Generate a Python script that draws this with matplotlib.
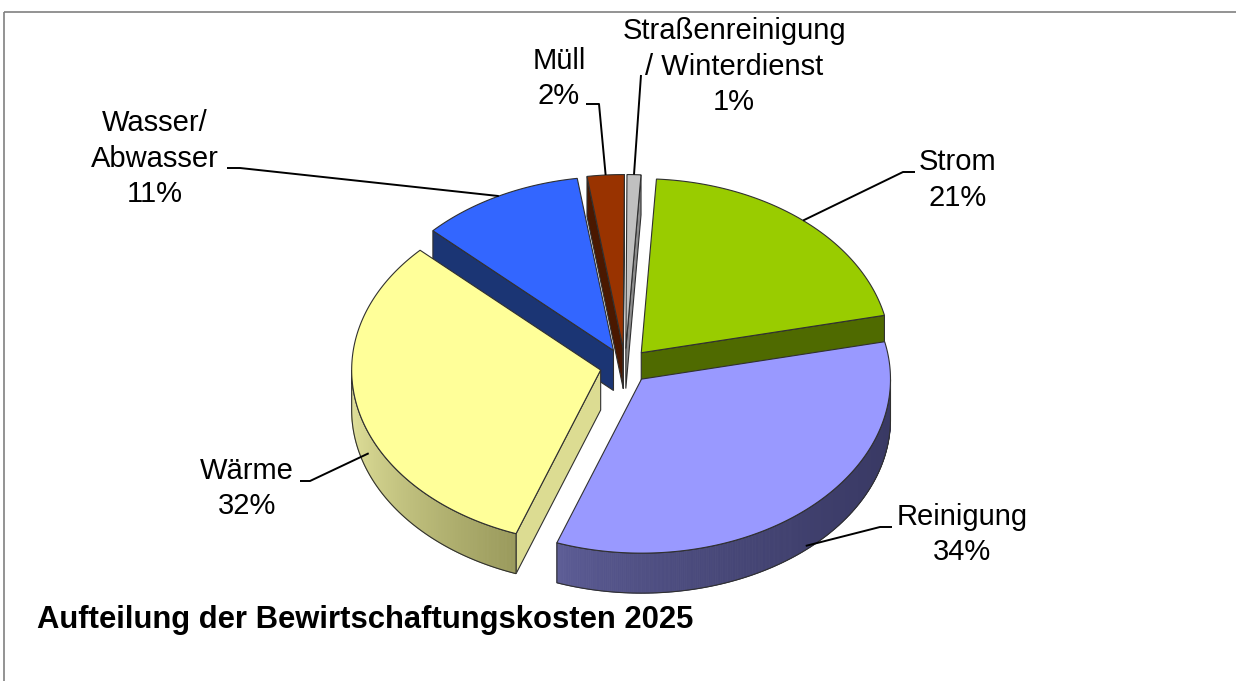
import numpy as np
import matplotlib.pyplot as plt
from matplotlib.patches import Polygon, Rectangle
from matplotlib.colors import to_rgb

plt.rcParams['font.family'] = ['Liberation Sans', 'DejaVu Sans']

# data (clockwise from the top)
categories = ['Strom', 'Reinigung', 'Wärme', 'Wasser/\nAbwasser', 'Müll',
              'Straßenreinigung\n/ Winterdienst']
shares = [20.6, 34.0, 31.6, 10.6, 2.4, 0.9]
title = 'Aufteilung der Bewirtschaftungskosten 2025'

# colours
top_colors = ['#99cc00', '#9999ff', '#ffff99', '#3366ff', '#993300', '#c0c0c0']
radial_colors = ['#4f6a00', '#3a3a66', '#dcdc92', '#1b3574', '#4a1800', '#8c8c8c']
wall_light = ['#6a8a00', '#5e5e98', '#e2e29c', '#2a4aa0', '#5a2000', '#a0a0a0']
wall_dark = ['#3e5200', '#393964', '#9a9a5c', '#14285a', '#3a1200', '#707070']

# label layout: (x, first baseline), leader: anchor angle tweak, depth fraction, bend, end
label_pos = [(958, 172), (962, 527), (247, 481), (155, 135), (559, 71), (734, 43)]
line_step = 33.5
anchor_tweak = [0, 0, 8, 0, 0, 0]
anchor_depth = [0, 0.9, 0.5, 0, 0, 0]
leader_bend = [(903, 172), (880, 527), (310, 481), (240, 168), (599, 104), (641, 75)]
leader_end = [(915, 172), (892, 527), (300, 481), (227, 168), (586, 104), (641, 75)]

W, H = 1236, 681
fig = plt.figure(figsize=(W / 100, H / 100), dpi=100)
ax = fig.add_axes([0, 0, 1, 1])
ax.set_xlim(0, W)
ax.set_ylim(H, 0)
ax.axis('off')

# chart frame
ax.add_patch(Rectangle((4, 12), W + 20, H + 20, fill=False, edgecolor='#808080', lw=1.2, zorder=0))

cx, cy = 625, 366
rx, ry = 249, 174
depth = 40
explode = 25
start = 86.5
edge = '#303030'

total = sum(shares)
angles = np.array(shares) / total * 360
ends = start - np.concatenate([[0], np.cumsum(angles)[:-1]])  # ccw end of each slice
begins = ends - angles


def rim(off, th):
    t = np.radians(th)
    return np.column_stack([cx + off[0] + rx * np.cos(t), cy + off[1] - ry * np.sin(t)])


def mix(c1, c2, f):
    a, b = np.array(to_rgb(c1)), np.array(to_rgb(c2))
    return tuple(a + (b - a) * f)


slices = []
for i in range(len(shares)):
    mid = (begins[i] + ends[i]) / 2
    m = np.radians(mid)
    off = (explode * np.cos(m), -explode * ry / rx * np.sin(m))
    slices.append(dict(i=i, t1=ends[i], t2=begins[i], mid=mid, off=off))

# paint back to front
order = sorted(slices, key=lambda s: s['off'][1])
z = 1
for s in order:
    i, t1, t2, off = s['i'], s['t1'], s['t2'], s['off']
    tip = np.array([cx + off[0], cy + off[1]])
    down = np.array([0, depth])

    # radial side faces facing the viewer
    for th, vis in ((t1, np.cos(np.radians(t1)) < 0), (t2, np.cos(np.radians(t2)) > 0)):
        if vis:
            p = rim(off, [th])[0]
            quad = np.array([tip, p, p + down, tip + down])
            ax.add_patch(Polygon(quad, closed=True, facecolor=radial_colors[i],
                                 edgecolor=edge, lw=0.8, zorder=z))
    z += 1

    # curved outer wall (front half only)
    th = np.linspace(t2, t1, 400)
    vis = np.sin(np.radians(th)) < 0
    if vis.any():
        tv = th[vis]
        top = rim(off, tv)
        bot = top + down
        x0, x1 = top[:, 0].min(), top[:, 0].max()
        for j in range(len(tv) - 1):
            f = ((top[j, 0] + top[j + 1, 0]) / 2 - x0) / (x1 - x0)
            c = mix(wall_light[i], wall_dark[i], f ** 0.7)
            quad = np.array([top[j], top[j + 1], bot[j + 1], bot[j]])
            ax.add_patch(Polygon(quad, closed=True, facecolor=c, edgecolor=c, lw=0.6, zorder=z))
        outline = np.vstack([top, bot[::-1]])
        ax.add_patch(Polygon(outline, closed=True, fill=False, edgecolor=edge, lw=0.8, zorder=z + 1))
    z += 2

    # top face
    arc = rim(off, np.linspace(t1, t2, 200))
    poly = np.vstack([tip, arc])
    ax.add_patch(Polygon(poly, closed=True, facecolor=top_colors[i], edgecolor=edge,
                         lw=0.8, zorder=z))
    z += 1

# labels and leader lines
for s in slices:
    i = s['i']
    a = rim(s['off'], [s['mid'] + anchor_tweak[i]])[0] + np.array([0, depth * anchor_depth[i]])
    xs = [a[0], leader_bend[i][0], leader_end[i][0]]
    ys = [a[1], leader_bend[i][1], leader_end[i][1]]
    ax.plot(xs, ys, color='black', lw=1.4, zorder=50, solid_capstyle='butt')
    txt = f'{categories[i]}\n{shares[i]:.0f}%'
    n = txt.count('\n')
    ax.text(label_pos[i][0], label_pos[i][1] + n * line_step, txt,
            ha='center', va='baseline', fontsize=21, color='black', zorder=60,
            linespacing=1.33)

ax.text(37, 628, title, ha='left', va='baseline', fontsize=22.3, fontweight='bold', color='black')

fig.savefig('out.png', dpi=100)
